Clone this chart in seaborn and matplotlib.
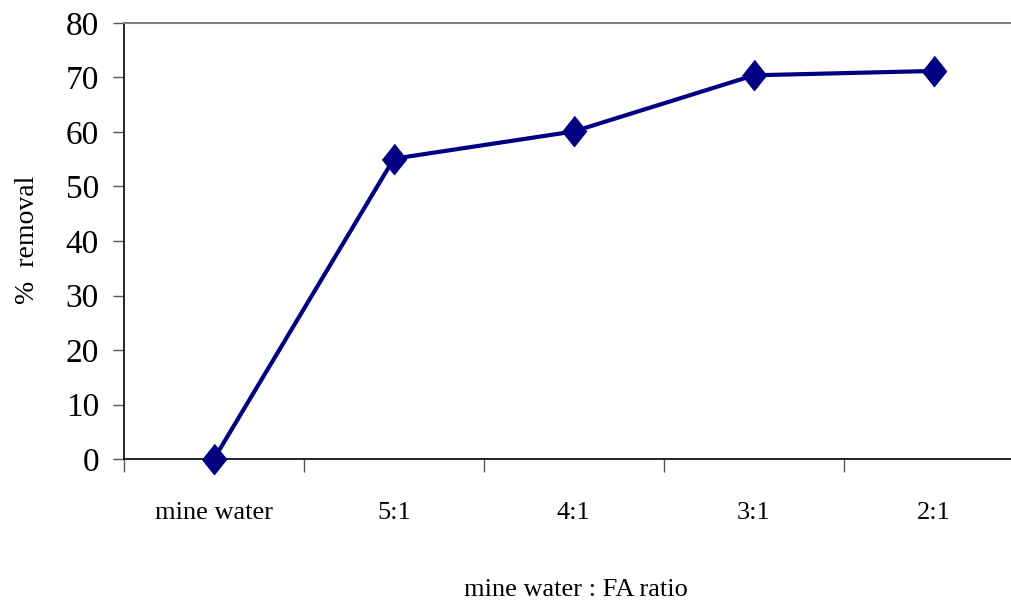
import matplotlib

matplotlib.use("Agg")

import matplotlib.pyplot as plt
import pandas as pd
import seaborn as sns

categories = ["mine water", "5:1", "4:1", "3:1", "2:1"]
removal = [0.0, 55.1, 60.1, 70.4, 71.2]
y_ticks = [0, 10, 20, 30, 40, 50, 60, 70, 80]

sns.set_theme(style="white")
plt.rcParams["font.family"] = ["Liberation Serif", "DejaVu Serif"]
plt.rcParams["text.color"] = "black"
plt.rcParams["axes.labelcolor"] = "black"

df = pd.DataFrame({"ratio": categories, "removal": removal})

fig = plt.figure(figsize=(10.12, 6.05), dpi=100)
ax = fig.add_axes([0.1225, 0.2413, 0.889, 0.7207])

diamond = [(0, 1), (0.8, 0), (0, -1), (-0.8, 0)]
sns.lineplot(data=df, x="ratio", y="removal", sort=False, ax=ax,
             color="#000080", linewidth=3, marker=diamond, markersize=22,
             markeredgecolor="#000080", markerfacecolor="#000080", clip_on=False, zorder=5)

ax.set_xlim(-0.5, 4.5)
ax.set_ylim(0, 80)
ax.set_yticks(y_ticks)
ax.set_xticks(range(len(categories)))
ax.set_xticklabels(categories)
ax.set_xticks([i + 0.5 for i in range(-1, len(categories) - 1)], minor=True)

ax.tick_params(axis="x", which="major", length=0, pad=31, labelsize=19, labelcolor="black")
ax.tick_params(axis="x", which="minor", length=9, width=1, color="#555555", direction="out", bottom=True)
ax.tick_params(axis="y", length=8, width=1, color="#555555", direction="out", left=True, pad=10,
               labelsize=24, labelcolor="black")

for side in ["left", "bottom"]:
    ax.spines[side].set_color("black")
    ax.spines[side].set_linewidth(1.2)
ax.spines["right"].set_visible(False)
ax.spines["top"].set_color("#808080")
ax.spines["top"].set_linewidth(1.5)

ax.set_xlabel("mine water : FA ratio", fontsize=19)
ax.set_ylabel("%  removal", fontsize=20)
ax.xaxis.set_label_coords(0.502, -0.275)
ax.yaxis.set_label_coords(-0.093, 0.502)

fig.savefig("out.png", dpi=100)
